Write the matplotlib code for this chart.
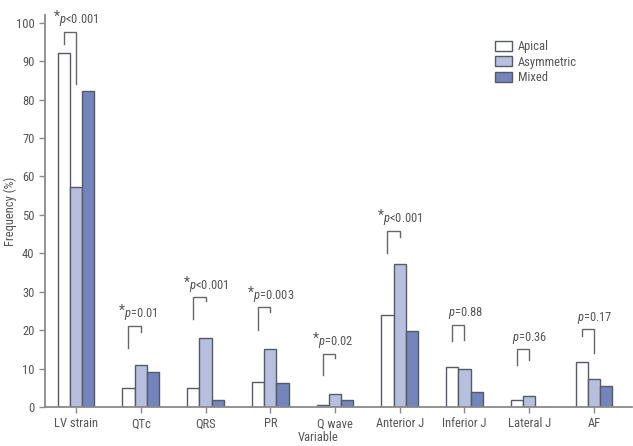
import matplotlib
matplotlib.use("Agg")
import matplotlib.pyplot as plt
import numpy as np
from matplotlib import font_manager

names = {f.name for f in font_manager.fontManager.ttflist}
fam = [n for n in ["Liberation Sans Narrow", "Roboto Condensed", "Roboto", "DejaVu Sans"] if n in names]
plt.rcParams['font.family'] = fam + ["DejaVu Sans"]
plt.rcParams['mathtext.fontset'] = 'custom'
plt.rcParams['mathtext.it'] = fam[0] + ':italic'
plt.rcParams['mathtext.rm'] = fam[0]

categories = ["LV strain", "QTc", "QRS", "PR", "Q wave", "Anterior J", "Inferior J", "Lateral J", "AF"]
apical = [92.0, 5.0, 5.0, 6.5, 0.5, 24.0, 10.5, 1.7, 11.7]
asymmetric = [57.2, 11.0, 18.0, 15.0, 3.4, 37.2, 9.9, 2.8, 7.2]
mixed = [82.2, 9.0, 1.8, 6.3, 1.8, 19.8, 3.8, 0.0, 5.5]
series_names = ["Apical", "Asymmetric", "Mixed"]

p_labels = ["p<0.001", "p=0.01", "p<0.001", "p=0.003", "p=0.02", "p<0.001", "p=0.88", "p=0.36", "p=0.17"]
significant = [True, True, True, True, True, True, False, False, False]
bracket_top = [97.7, 21.2, 28.5, 25.9, 13.8, 45.9, 21.4, 15.0, 20.2]
bracket_left_bottom = [94.5, 15.3, 22.8, 20.0, 8.2, 40.2, 17.3, 10.9, 18.5]
bracket_right_bottom = [84.0, 19.5, 27.6, 24.7, 12.7, 44.3, 17.4, 12.2, 14.1]

text_color = "#555555"
edge = "#555a66"
colors = ["#ffffff", "#b7bfdf", "#7484bd"]
fs = 9

fig = plt.figure(figsize=(6.33, 4.46), dpi=100)
ax = fig.add_axes([45/633, 1-407/446, (632-45)/633, (407-15)/446])

x = np.arange(len(categories))
w = 0.19
for i, (vals, c, nm) in enumerate(zip([apical, asymmetric, mixed], colors, series_names)):
    ax.bar(x + (i-1)*w, vals, width=w, color=c, edgecolor=edge, linewidth=1.0, label=nm, zorder=2)

for i in range(len(categories)):
    xl = x[i] - w
    xr = x[i]
    ax.plot([xl, xl, xr, xr], [bracket_left_bottom[i], bracket_top[i], bracket_top[i], bracket_right_bottom[i]],
            color="#666666", lw=1.0, solid_joinstyle="miter", zorder=3)
    ty = bracket_top[i] + 3.0
    tx = xl - 0.15
    if significant[i]:
        ax.text(tx, ty + 0.9, "*", fontsize=10, color=text_color, ha="left", va="center")
    ax.text(tx + 0.08, ty, "$\\it{p}$" + p_labels[i][1:], fontsize=fs, color=text_color, ha="left", va="center")

ax.set_xlim(-0.479, 8.587)
ax.set_ylim(0, 102)
ax.set_yticks(np.arange(0, 101, 10))
ax.set_xticks(x)
ax.set_xticklabels(categories)
for s in ["top", "right"]:
    ax.spines[s].set_visible(False)
for s in ["left", "bottom"]:
    ax.spines[s].set_color("#8a8a8a")
    ax.spines[s].set_linewidth(1.3)
ax.tick_params(axis="both", colors="#8a8a8a", labelcolor=text_color, labelsize=fs, length=4, width=1)
ax.set_ylabel("Frequency (%)", fontsize=fs, color=text_color)
ax.yaxis.set_label_coords(-0.047, 0.5)
ax.set_xlabel("Variable", fontsize=fs, color=text_color)
ax.xaxis.set_label_coords(0.466, -0.06)

leg = ax.legend(loc="upper left", bbox_to_anchor=(0.748, 0.965), frameon=False, fontsize=fs,
                handlelength=1.3, handleheight=0.85, handletextpad=0.5, labelspacing=0.22)
for t in leg.get_texts():
    t.set_color(text_color)

fig.savefig("out.png", dpi=100)
